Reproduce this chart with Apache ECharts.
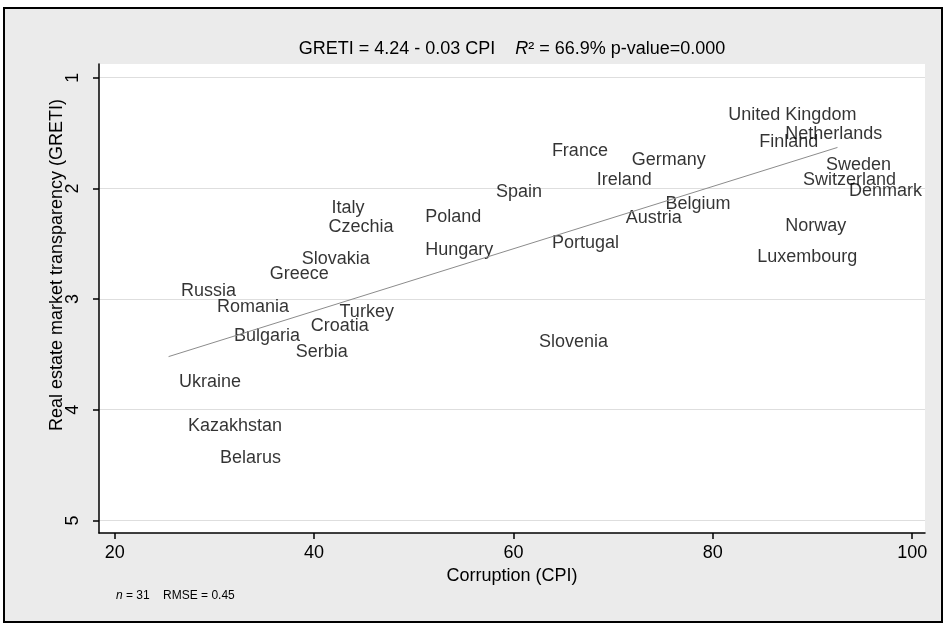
<!DOCTYPE html>
<html>
<head>
<meta charset="utf-8">
<script src="https://cdn.jsdelivr.net/npm/echarts@6/dist/echarts.min.js"></script>
<style>
html,body{margin:0;padding:0;background:#fff;}
#chart{width:947px;height:632px;}
</style>
</head>
<body>
<div id="chart"></div>
<script>
// countries, corruption index (x) and transparency score (y)
var countries = ['Italy','Czechia','Poland','Hungary','Slovakia','Greece','Russia','Romania','Turkey','Croatia',
                 'Bulgaria','Serbia','Ukraine','Kazakhstan','Belarus','United Kingdom','Netherlands','Finland','France','Germany',
                 'Sweden','Ireland','Switzerland','Spain','Denmark','Belgium','Austria','Norway','Portugal','Luxembourg','Slovenia'];
var cpi = [41.7,41.4,51.1,51.1,38.7,35.5,26.6,30.2,42.5,39.6,
           31.9,38.1,26.4,27.3,30.5,81.5,87.2,84.6,63.8,71.8,
           91.3,68.3,89.0,58.2,93.6,75.2,71.2,87.2,63.8,84.4,62.5];
var greti = [2.18,2.35,2.26,2.56,2.64,2.77,2.93,3.07,3.12,3.24,
             3.33,3.48,3.75,4.15,4.44,1.34,1.51,1.58,1.66,1.74,
             1.79,1.92,1.92,2.03,2.02,2.14,2.27,2.34,2.49,2.62,3.39];
// fitted line end points
var fitX = [25.4, 92.5];
var fitY = [3.52, 1.63];
var xTicks = [20, 40, 60, 80, 100];
var yTicks = [1, 2, 3, 4, 5];

var FONT = 'Liberation Sans';

var pts = [];
for (var i = 0; i < countries.length; i++) {
  pts.push({name: countries[i], value: [cpi[i], greti[i]]});
}
var fitLine = [];
for (var j = 0; j < fitX.length; j++) {
  fitLine.push([fitX[j], fitY[j]]);
}

var chart = echarts.init(document.getElementById('chart'));
var option = {
  backgroundColor: '#fff',
  animation: false,
  textStyle: {fontFamily: FONT},
  graphic: [
    {type: 'rect', z: -100, shape: {x: 4, y: 8, width: 938, height: 614},
     style: {fill: '#ebebeb', stroke: '#000', lineWidth: 2}},
    {type: 'text', x: 512, y: 49,
     style: {text: '{n|GRETI = 4.24 - 0.03 CPI    }{i|R}{n|² = 66.9% p-value=0.000}',
             align: 'center', verticalAlign: 'middle',
             rich: {n: {fontSize: 18, fontFamily: FONT, fill: '#000'},
                    i: {fontSize: 18, fontFamily: FONT, fontStyle: 'italic', fill: '#000'}}}},
    {type: 'text', x: 57, y: 265, rotation: Math.PI / 2,
     style: {text: 'Real estate market transparency (GRETI)', align: 'center', verticalAlign: 'middle',
             fontSize: 18, fontFamily: FONT, fill: '#000'}},
    {type: 'text', x: 116, y: 596,
     style: {text: '{i|n}{n| = 31    RMSE = 0.45}', verticalAlign: 'middle',
             rich: {n: {fontSize: 12, fontFamily: FONT, fill: '#000'},
                    i: {fontSize: 12, fontFamily: FONT, fontStyle: 'italic', fill: '#000'}}}}
  ],
  grid: {left: 99, right: 22, top: 64, bottom: 99, show: true, backgroundColor: '#fff', borderWidth: 0},
  xAxis: {
    type: 'value', min: 18.42, max: 101.28,
    name: 'Corruption (CPI)', nameLocation: 'middle', nameGap: 30,
    nameTextStyle: {fontSize: 18, color: '#000', fontFamily: FONT},
    axisLine: {onZero: false, lineStyle: {color: '#000', width: 1.5}},
    axisTick: {customValues: xTicks, length: 6, lineStyle: {color: '#000', width: 1.5}},
    axisLabel: {customValues: xTicks, fontSize: 18, color: '#000', margin: 11},
    splitLine: {show: false}
  },
  yAxis: {
    type: 'value', inverse: true, min: 0.876, max: 5.114,
    axisLine: {onZero: false, lineStyle: {color: '#000', width: 1.5}},
    axisTick: {customValues: yTicks, length: 6, lineStyle: {color: '#000', width: 1.5}},
    axisLabel: {customValues: yTicks, fontSize: 18, color: '#000', rotate: 90, margin: 17},
    splitLine: {show: true, lineStyle: {color: '#dedede', width: 1}}
  },
  series: [
    {
      type: 'line', data: fitLine, symbol: 'none', silent: true,
      lineStyle: {color: '#8c8c8c', width: 1}
    },
    {
      type: 'scatter', data: pts, symbolSize: 1, silent: true,
      itemStyle: {color: 'transparent'},
      label: {show: true, position: 'right', distance: 0, formatter: '{b}',
              fontSize: 18, color: '#000', fontFamily: FONT}
    }
  ]
};
chart.setOption(option);
</script>
</body>
</html>
